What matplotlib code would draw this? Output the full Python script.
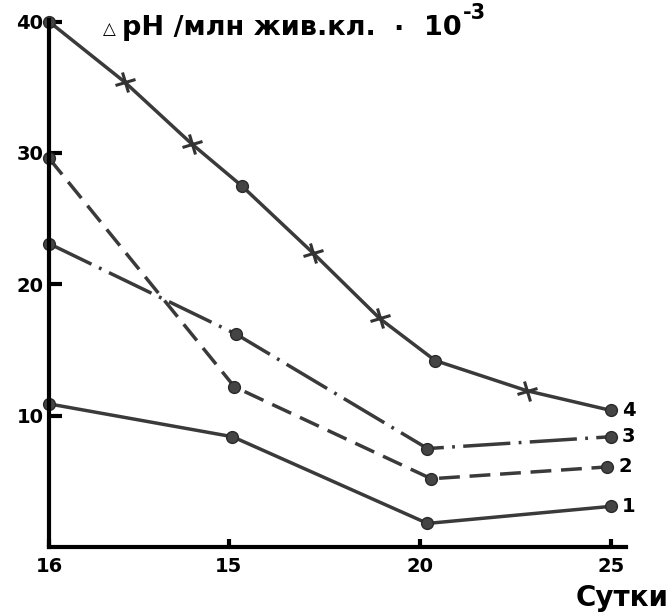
import matplotlib
matplotlib.use("Agg")
import matplotlib.pyplot as plt
from matplotlib.markers import MarkerStyle
from matplotlib.transforms import Affine2D

# days (first point sits on the y axis, labelled "16" in the original)
x_ticks = [10.3, 15, 20, 25]
x_tick_labels = ["16", "15", "20", "25"]
y_ticks = [10, 20, 30, 40]

days_1 = [10.3, 15.1, 20.2, 25.0]
vals_1 = [10.9, 8.4, 1.8, 3.1]

days_2 = [10.3, 15.15, 20.3, 24.9]
vals_2 = [29.6, 12.2, 5.2, 6.1]

days_3 = [10.3, 15.2, 20.2, 25.0]
vals_3 = [23.1, 16.2, 7.5, 8.4]

days_4 = [10.3, 12.28, 14.03, 15.34, 17.2, 18.95, 20.4, 22.8, 25.0]
vals_4 = [40.0, 35.4, 30.7, 27.5, 22.4, 17.4, 14.2, 11.9, 10.4]
cross_idx_4 = [1, 2, 4, 5, 7]

curve_labels = ["1", "2", "3", "4"]

plt.rcParams['font.family'] = ['DejaVu Sans']
plt.rcParams['lines.scale_dashes'] = False

line_col = "#3a3a3a"
dot_col = "#444444"

fig = plt.figure(figsize=(6.69, 6.14), dpi=100)
ax = fig.add_axes([0.0732, 0.109, 0.863, 0.858])

common = dict(color=line_col, linewidth=2.5, marker='o', markersize=8.5,
              markerfacecolor=dot_col, markeredgecolor="#2a2a2a", clip_on=False)

ax.plot(days_1, vals_1, linestyle='-', **common)
ax.plot(days_2, vals_2, linestyle=(0, (15, 7)), **common)
ax.plot(days_3, vals_3, linestyle=(0, (34, 6, 2, 6)), **common)

# curve 4: line first, then dots and crosses
ax.plot(days_4, vals_4, color=line_col, linewidth=2.5, clip_on=False)
dot_idx_4 = [i for i in range(len(days_4)) if i not in cross_idx_4]
ax.plot([days_4[i] for i in dot_idx_4], [vals_4[i] for i in dot_idx_4],
        linestyle='none', marker='o', markersize=8.5, markerfacecolor=dot_col,
        markeredgecolor="#2a2a2a", clip_on=False)
cross = MarkerStyle('+', transform=Affine2D().rotate_deg(15))
ax.plot([days_4[i] for i in cross_idx_4], [vals_4[i] for i in cross_idx_4],
        linestyle='none', marker=cross, markersize=15, markeredgewidth=2.2,
        color="#333333", clip_on=False)

# curve numbers at the right end
ends = [(days_1[-1], vals_1[-1]), (days_2[-1], vals_2[-1]),
        (days_3[-1], vals_3[-1]), (days_4[-1], vals_4[-1])]
for lab, (xe, ye) in zip(curve_labels, ends):
    ax.annotate(lab, (xe, ye), xytext=(8, 0), textcoords='offset points',
                ha='left', va='center', fontsize=14, fontweight='bold')

ax.set_xlim(10.3, 25.4)
ax.set_ylim(0, 40.1)
ax.set_xticks(x_ticks)
ax.set_xticklabels(x_tick_labels)
ax.set_yticks(y_ticks)

for side in ['top', 'right']:
    ax.spines[side].set_visible(False)
for side in ['left', 'bottom']:
    ax.spines[side].set_linewidth(3)
    ax.spines[side].set_color('black')

ax.tick_params(axis='y', direction='in', length=9, width=3, pad=4,
               labelsize=14)
ax.tick_params(axis='x', direction='in', length=6, width=3, pad=7,
               labelsize=14)
for t in ax.get_xticklabels() + ax.get_yticklabels():
    t.set_fontweight('bold')

# title pieces chained along one baseline (positions in pixels)
W, H = 669, 614
base_y = 1 - 35 / H
renderer = fig.canvas.get_renderer()


def right_edge(txt):
    return txt.get_window_extent(renderer).x1


fig.text(103 / W, base_y + 0.002, "△", fontsize=12, ha='left', va='baseline')
main = fig.text(122 / W, base_y, "pH /млн жив.кл.", fontsize=19.5,
                fontweight='bold', ha='left', va='baseline')
x_dot = right_edge(main) + 18
dot = fig.text(x_dot / W, base_y - 0.004, "·", fontsize=19.5,
               fontweight='bold', ha='left', va='baseline')
x_ten = right_edge(dot) + 20
ten = fig.text(x_ten / W, base_y, "10", fontsize=19.5, fontweight='bold',
               ha='left', va='baseline')
fig.text((right_edge(ten) + 1) / W, 1 - 19 / H, "-3", fontsize=15,
         fontweight='bold', ha='left', va='baseline')

fig.text(0.999, 1 - 598 / H, "Сутки", fontsize=20, fontweight='bold',
         ha='right', va='center')

fig.savefig("out.png", dpi=100)
